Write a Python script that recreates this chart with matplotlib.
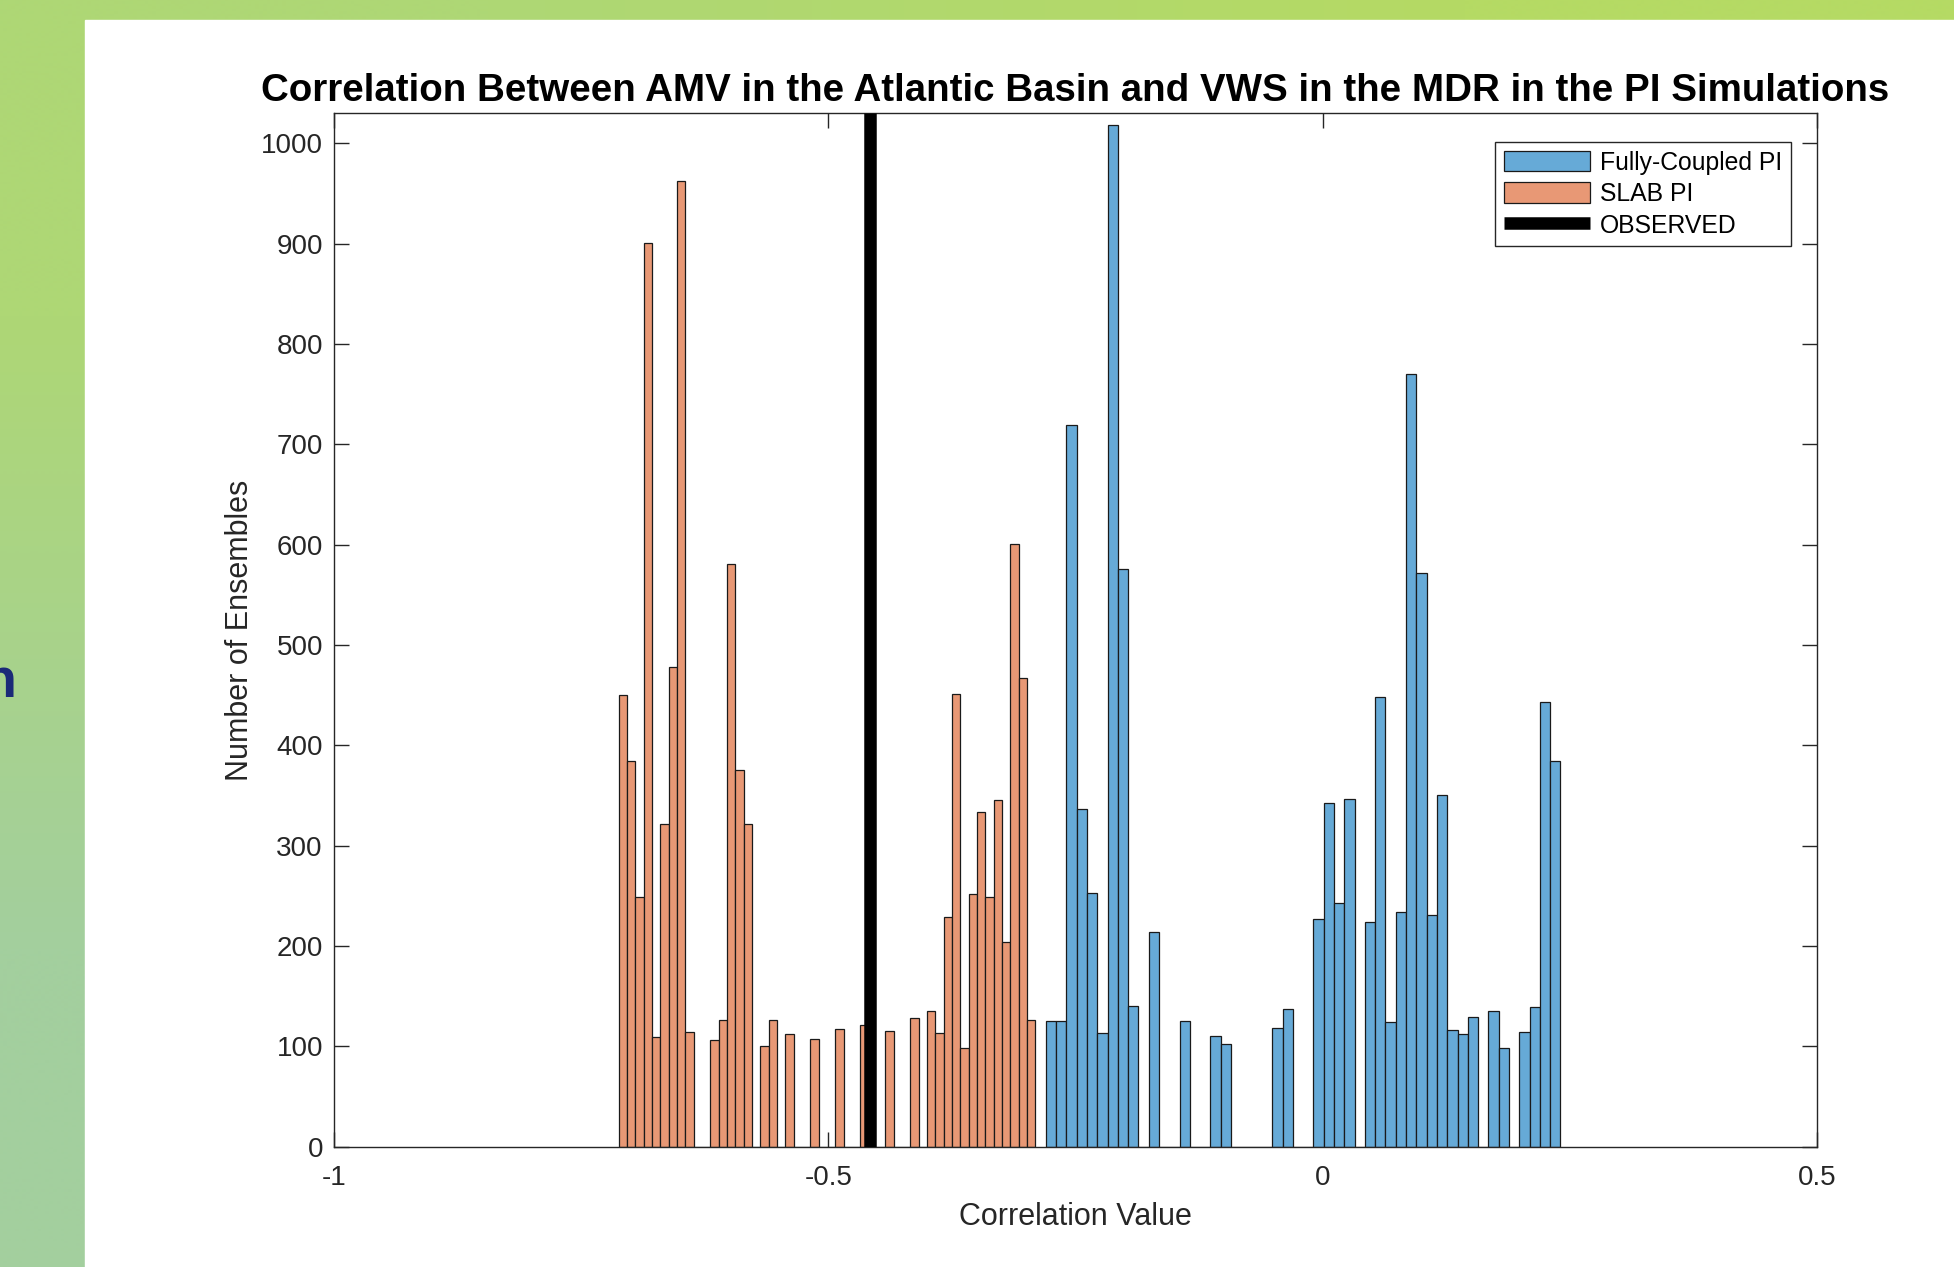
import numpy as np
import matplotlib.pyplot as plt
from matplotlib.patches import Rectangle, Patch
from matplotlib.lines import Line2D

plt.rcParams['font.family'] = ['Liberation Sans', 'DejaVu Sans']
plt.rcParams['axes.unicode_minus'] = False

# SLAB PI histogram (50 bins)
slab_lo, slab_hi = -0.7122, -0.2907
slab_counts = [450, 384, 249, 901, 109, 322, 478, 963, 114, 0,
               0, 106, 126, 581, 375, 322, 0, 100, 126, 0,
               112, 0, 0, 107, 0, 0, 117, 0, 0, 121,
               0, 0, 115, 0, 0, 128, 0, 135, 113, 229,
               451, 98, 252, 334, 249, 346, 204, 601, 467, 126]

# Fully-Coupled PI histogram (50 bins)
fc_lo, fc_hi = -0.2801, 0.2405
fc_counts = [125, 125, 719, 337, 253, 113, 1018, 576, 140, 0,
             214, 0, 0, 125, 0, 0, 110, 102, 0, 0,
             0, 0, 118, 137, 0, 0, 227, 343, 243, 347,
             0, 224, 448, 124, 234, 770, 572, 231, 351, 116,
             112, 129, 0, 135, 98, 0, 114, 139, 443, 384]

observed = -0.458

blue = '#66AAD7'
orange = '#E89875'

W, H = 1954, 1267
fig = plt.figure(figsize=(W / 100, H / 100), dpi=100)

# slide background (green gradient) and white panel
bg = fig.add_axes([0, 0, 1, 1], zorder=-10)
grad = np.array([[[174, 215, 117], [181, 218, 100]],
                 [[163, 207, 158], [172, 212, 140]]]) / 255.0
bg.imshow(grad, extent=[0, 1, 0, 1], aspect='auto', interpolation='bilinear')
bg.add_patch(Rectangle((85 / W, 0), 1, 1 - 20 / H, color='white', zorder=2))
bg.set_xlim(0, 1)
bg.set_ylim(0, 1)
bg.axis('off')
fig.text(16 / W, 1 - 683 / H, 'n', ha='right', va='center', fontsize=40,
         fontweight='bold', color='#1B2A78')

ax = fig.add_axes([334 / W, 1 - 1146.6 / H, 1483 / W, 1033.2 / H])

def draw_hist(lo, hi, counts, color):
    edges = np.linspace(lo, hi, len(counts) + 1)
    ax.bar(edges[:-1], counts, width=np.diff(edges), align='edge',
           color=color, edgecolor='#1a1a1a', linewidth=0.9, zorder=2)

draw_hist(fc_lo, fc_hi, fc_counts, blue)
draw_hist(slab_lo, slab_hi, slab_counts, orange)
ax.plot([observed, observed], [0, 1030], color='black', linewidth=9,
        solid_capstyle='butt', zorder=3)

ax.set_xlim(-1, 0.5)
ax.set_ylim(0, 1030)
ax.set_xticks([-1, -0.5, 0, 0.5])
ax.set_xticklabels(['-1', '-0.5', '0', '0.5'])
ax.set_yticks(np.arange(0, 1001, 100))
ax.tick_params(direction='in', length=11, width=1, colors='#262626',
               labelsize=20, top=True, right=True)
ax.tick_params(axis='x', pad=13)
ax.tick_params(axis='y', pad=8)
for s in ax.spines.values():
    s.set_color('#262626')
    s.set_linewidth(1)

ax.set_xlabel('Correlation Value', fontsize=22, color='#262626', labelpad=8)
ax.set_ylabel('Number of Ensembles', fontsize=22, color='#262626', labelpad=4)
ax.set_title('Correlation Between AMV in the Atlantic Basin and VWS in the MDR in the PI Simulations',
             fontsize=27.7, fontweight='bold', pad=9)

handles = [Patch(facecolor=blue, edgecolor='#1a1a1a', linewidth=0.9),
           Patch(facecolor=orange, edgecolor='#1a1a1a', linewidth=0.9),
           Line2D([], [], color='black', linewidth=9, solid_capstyle='butt')]
leg = ax.legend(handles, ['Fully-Coupled PI', 'SLAB PI', 'OBSERVED'],
                loc='upper right', bbox_to_anchor=(0.9825, 0.9723),
                borderaxespad=0, fontsize=17.8, handlelength=3.5,
                handleheight=0.9, handletextpad=0.4, labelspacing=0.3,
                fancybox=False, framealpha=1, edgecolor='#262626',
                borderpad=0.35)
leg.get_frame().set_linewidth(1)

fig.savefig('out.png', dpi=100)
